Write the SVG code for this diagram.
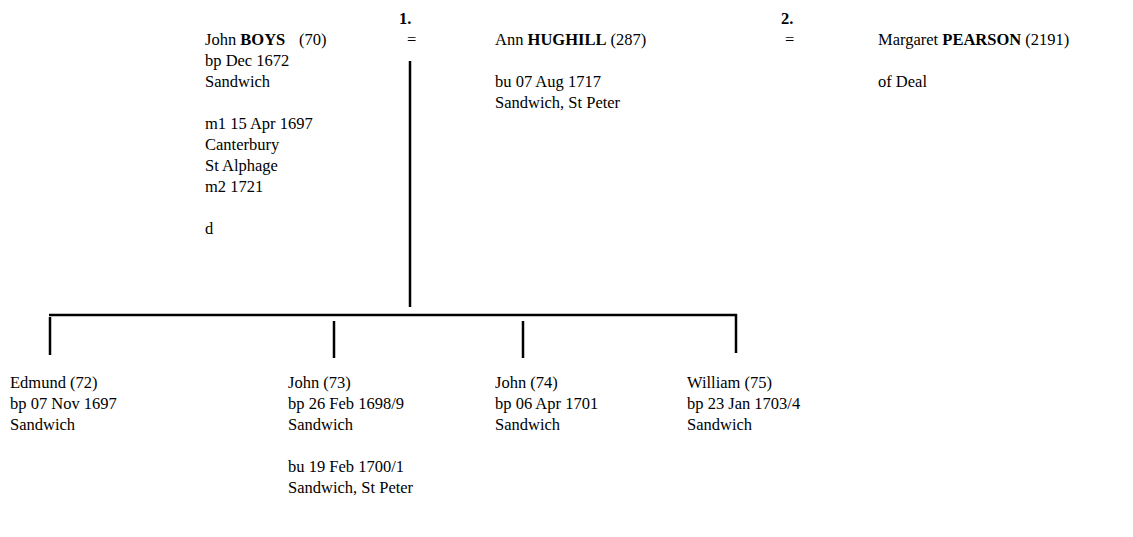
<svg xmlns="http://www.w3.org/2000/svg" width="1133" height="537" viewBox="0 0 1133 537">
<style>
text{font-family:"Liberation Serif","Times New Roman",serif;font-size:16.5px;fill:#000}
.b{font-weight:bold}
.ln{stroke:#000;stroke-width:2.5;fill:none}
</style>
<rect width="1133" height="537" fill="#fff"/>
<g id="connectors">
<line class="ln" x1="410" y1="61" x2="410" y2="307"/>
<line class="ln" x1="49" y1="315" x2="737" y2="315"/>
<line class="ln" x1="50" y1="317" x2="50" y2="355"/>
<line class="ln" x1="334" y1="321" x2="334" y2="358"/>
<line class="ln" x1="523" y1="321" x2="523" y2="358"/>
<line class="ln" x1="736" y1="314" x2="736" y2="353"/>
</g>
<g id="marriage1">
<text x="399" y="24" class="b">1.</text>
<text x="407" y="45">=</text>
</g>
<g id="marriage2">
<text x="781" y="24" class="b">2.</text>
<text x="785" y="45">=</text>
</g>
<g id="john-boys">
<text x="205" y="45">John <tspan class="b">BOYS</tspan><tspan x="299">(70)</tspan></text>
<text x="205" y="66">bp Dec 1672</text>
<text x="205" y="87">Sandwich</text>
<text x="205" y="129">m1 15 Apr 1697</text>
<text x="205" y="150">Canterbury</text>
<text x="205" y="171">St Alphage</text>
<text x="205" y="192">m2 1721</text>
<text x="205" y="234">d</text>
</g>
<g id="ann-hughill">
<text x="495" y="45">Ann <tspan class="b">HUGHILL</tspan> (287)</text>
<text x="495" y="87">bu 07 Aug 1717</text>
<text x="495" y="108">Sandwich, St Peter</text>
</g>
<g id="margaret-pearson">
<text x="878" y="45">Margaret <tspan class="b">PEARSON</tspan> (2191)</text>
<text x="878" y="87">of Deal</text>
</g>
<g id="edmund">
<text x="10" y="388">Edmund (72)</text>
<text x="10" y="409">bp 07 Nov 1697</text>
<text x="10" y="430">Sandwich</text>
</g>
<g id="john73">
<text x="288" y="388">John (73)</text>
<text x="288" y="409">bp 26 Feb 1698/9</text>
<text x="288" y="430">Sandwich</text>
<text x="288" y="472">bu 19 Feb 1700/1</text>
<text x="288" y="493">Sandwich, St Peter</text>
</g>
<g id="john74">
<text x="495" y="388">John (74)</text>
<text x="495" y="409">bp 06 Apr 1701</text>
<text x="495" y="430">Sandwich</text>
</g>
<g id="william75">
<text x="687" y="388">William (75)</text>
<text x="687" y="409">bp 23 Jan 1703/4</text>
<text x="687" y="430">Sandwich</text>
</g>
</svg>
